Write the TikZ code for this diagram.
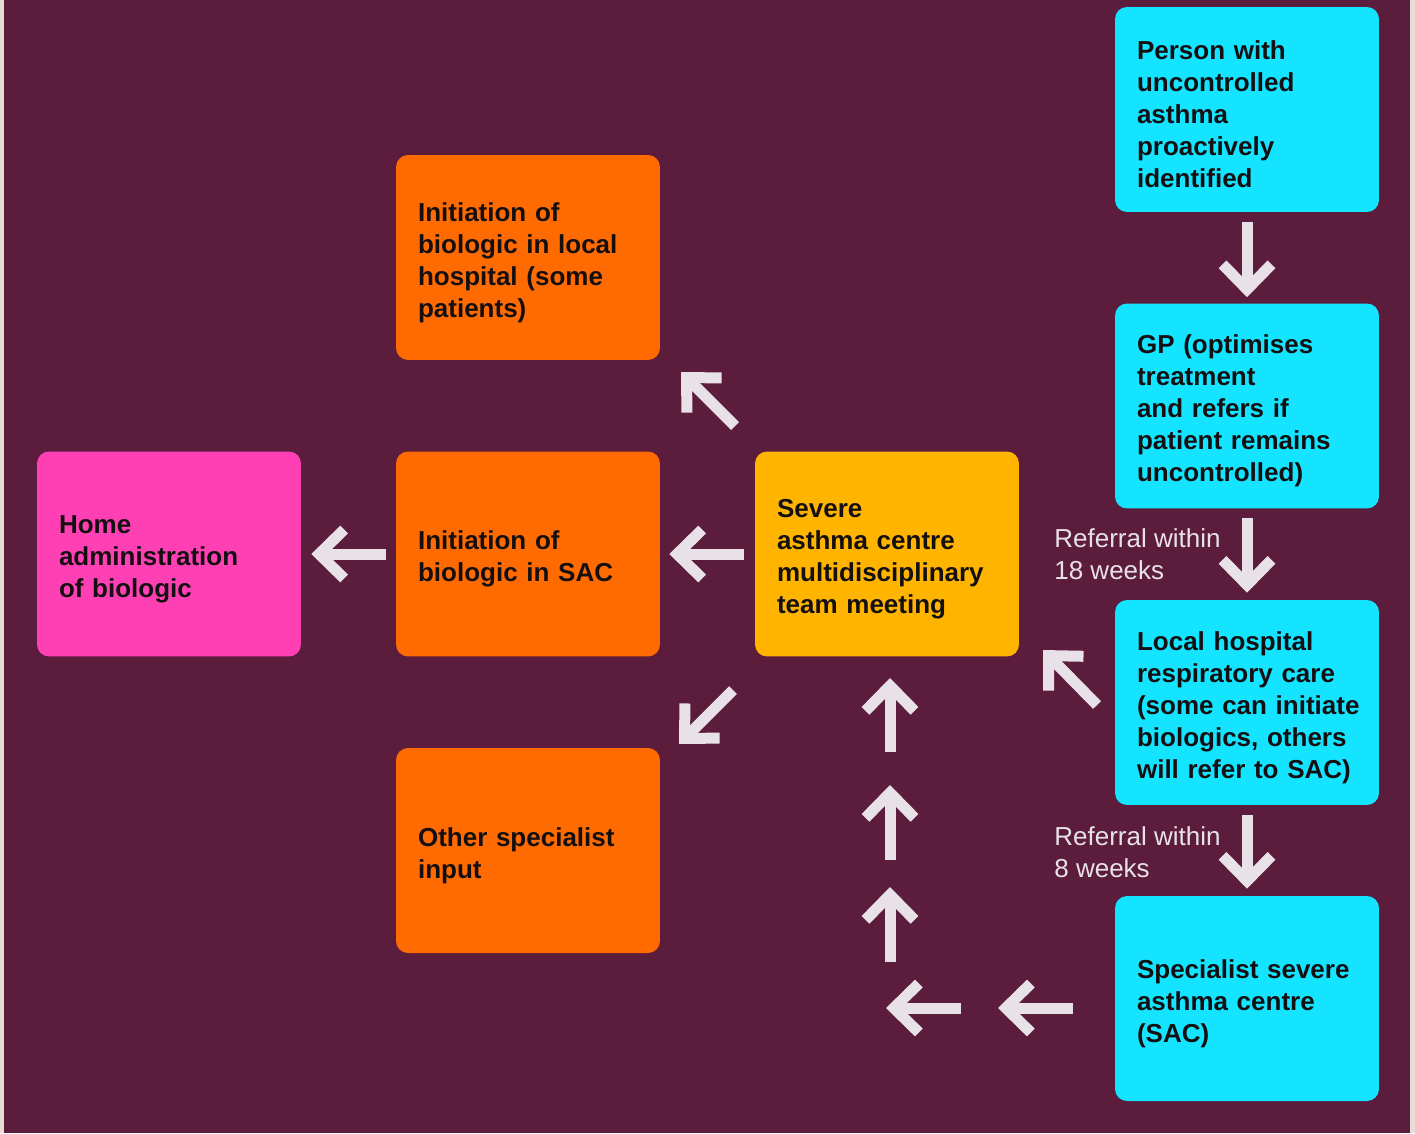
\documentclass[tikz,border=0pt]{standalone}
\usepackage{fontspec}
\setmainfont{Liberation Sans}
\usetikzlibrary{arrows.meta}
\definecolor{plum}{RGB}{92,28,60}
\definecolor{edgebeige}{RGB}{232,221,213}
\definecolor{skycyan}{RGB}{20,228,255}
\definecolor{carrot}{RGB}{255,107,0}
\definecolor{amber}{RGB}{255,180,0}
\definecolor{hotpink}{RGB}{255,64,180}
\definecolor{chalk}{RGB}{232,226,232}
\definecolor{inkblk}{RGB}{20,16,18}
\begin{document}
\begin{tikzpicture}[
    x=0.02cm, y=-0.02cm,
    box/.style={rectangle, rounded corners=0.24cm, minimum width=5.28cm, minimum height=4.1cm,
      inner xsep=0.44cm, text width=4.4cm, align=left, text=inkblk,
      font=\bfseries\fontsize{14.8pt}{18.2pt}\selectfont,
      execute at end node={\endgraf\vspace*{-0.2cm}}},
    patient/.style={box, fill=skycyan},
    treat/.style={box, fill=carrot},
    mdt/.style={box, fill=amber},
    home/.style={box, fill=hotpink},
    arr/.style={draw=chalk, line width=0.22cm, -{Straight Barb[sharp, length=0.5cm, width=0.98cm]}},
    note/.style={anchor=west, align=left, text=chalk, inner sep=0pt,
      font=\fontsize{14.8pt}{18.2pt}\selectfont}
  ]
    \fill[plum] (0,0) rectangle (1415,1133);
    \useasboundingbox (0,0) rectangle (1415,1133);
    \fill[edgebeige] (0,0) rectangle (4,1133);
    \fill[edgebeige] (1410,0) rectangle (1415,1133);

    \node[patient] (person) at (1247,109.5) {Person with\\uncontrolled\\asthma\\proactively\\identified};
    \node[patient] (gp) at (1247,406) {GP (optimises\\treatment\\and refers if\\patient remains\\uncontrolled)};
    \node[patient] (local) at (1247,702.5) {Local hospital\\respiratory care\\\mbox{(some can initiate}\\biologics, others\\will refer to SAC)};
    \node[patient] (sac) at (1247,998.5) {Specialist severe\\asthma centre\\(SAC)};
    \node[mdt] (severe) at (887,554) {Severe\\asthma centre\\multidisciplinary\\team meeting};
    \node[treat] (initloc) at (528,257.5) {Initiation of\\biologic in local\\hospital (some\\patients)};
    \node[treat] (initsac) at (528,554) {Initiation of\\biologic in SAC};
    \node[treat] (other) at (528,850.5) {Other specialist\\input};
    \node[home] (homeadmin) at (169,554) {Home\\administration\\of biologic};

    \node[note] (ref18) at (1054,554) {Referral within\\18 weeks};
    \node[note] (ref8) at (1054,852) {Referral within\\8 weeks};

    \draw[arr, shorten <=0.2cm, shorten >=0.12cm] (person.south) -- (gp.north);
    \draw[arr, shorten <=0.18cm, shorten >=0.14cm] (gp.south) -- (local.north);
    \draw[arr, shorten <=0.2cm, shorten >=0.14cm] (local.south) -- (sac.north);
    \draw[arr, shorten <=0.22cm, shorten >=0.18cm] (severe.west) -- (initsac.east);
    \draw[arr, shorten <=0.2cm, shorten >=0.2cm] (initsac.west) -- (homeadmin.east);

    \coordinate (b1) at (1073,1008);
    \coordinate (b2) at (998,1008);
    \coordinate (b3) at (961,1008);
    \coordinate (b4) at (886,1008);
    \coordinate (u1) at (890,962);
    \coordinate (u2) at (890,887);
    \coordinate (u3) at (890,860);
    \coordinate (u4) at (890,785);
    \coordinate (u5) at (890,752);
    \coordinate (u6) at (890,678);
    \coordinate (d1) at (1097,705);
    \coordinate (d2) at (1043,650);
    \coordinate (d3) at (735,426);
    \coordinate (d4) at (681,372);
    \coordinate (d5) at (733,690);
    \coordinate (d6) at (679,744);

    \foreach \a/\b in {b1/b2, b3/b4, u1/u2, u3/u4, u5/u6, d1/d2, d3/d4, d5/d6} {
      \draw[arr] (\a) -- (\b);
    }
  \end{tikzpicture}
\end{document}
